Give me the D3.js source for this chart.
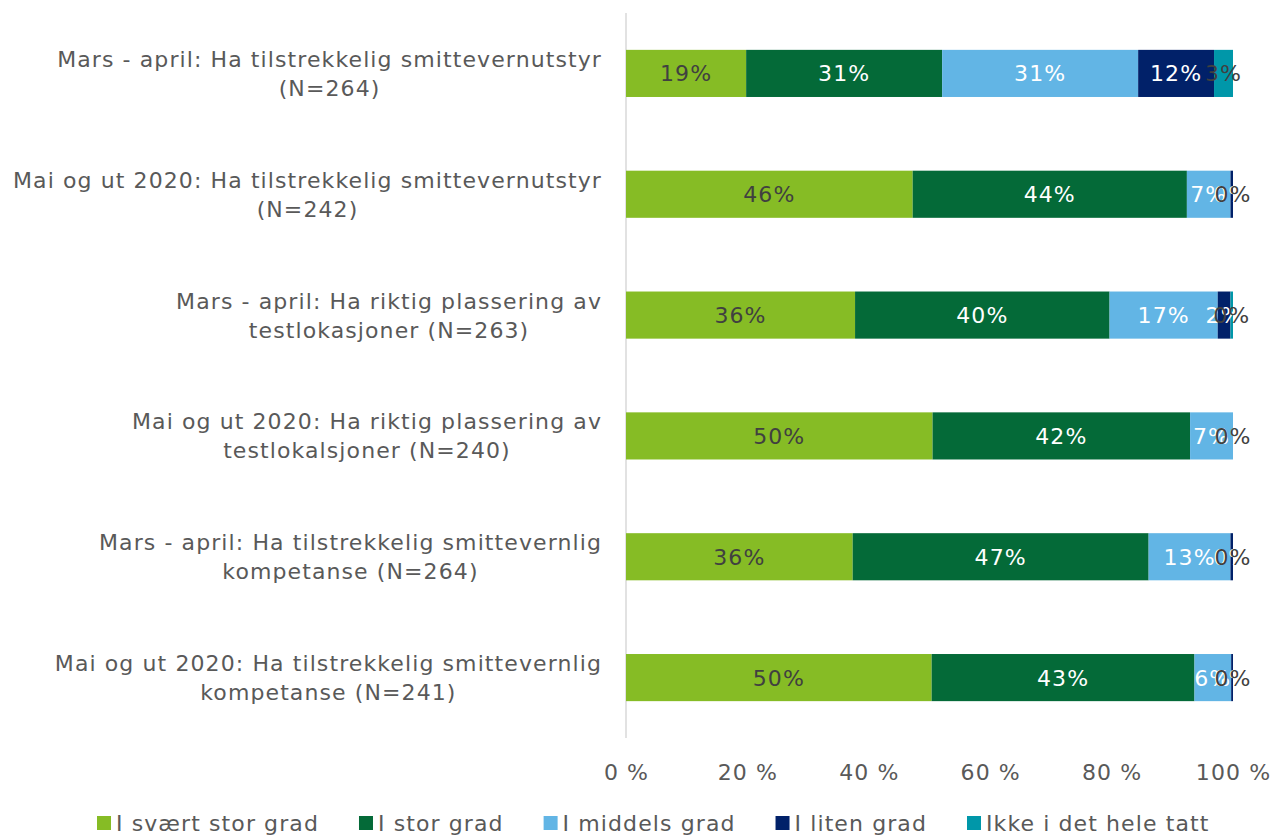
<!DOCTYPE html>
<html>
<head>
<meta charset="utf-8">
<script src="https://cdn.jsdelivr.net/npm/d3@7"></script>
<style>
  html, body { margin: 0; padding: 0; background: #ffffff; }
  svg { display: block; }
  text { font-family: "DejaVu Sans", Verdana, sans-serif; letter-spacing: 1.1px; }
</style>
</head>
<body>
<svg id="chart" width="1276" height="835"></svg>
<script>
// Question rows (two-line labels), top to bottom
const categories = [
  ["Mars - april: Ha tilstrekkelig smittevernutstyr", "(N=264)"],
  ["Mai og ut 2020: Ha tilstrekkelig smittevernutstyr", "(N=242)"],
  ["Mars - april: Ha riktig plassering av", "testlokasjoner (N=263)"],
  ["Mai og ut 2020: Ha riktig plassering av", "testlokalsjoner (N=240)"],
  ["Mars - april: Ha tilstrekkelig smittevernlig", "kompetanse (N=264)"],
  ["Mai og ut 2020: Ha tilstrekkelig smittevernlig", "kompetanse (N=241)"]
];

// Answer categories and their colours
const seriesNames = ["I svært stor grad", "I stor grad", "I middels grad", "I liten grad", "Ikke i det hele tatt"];
const seriesColors = ["#86bc25", "#046a38", "#62b5e5", "#012169", "#0097a9"];
const labelColors  = ["#404040", "#ffffff", "#ffffff", "#ffffff", "#404040"];

// Shares in percent per answer category (one value per row)
const sværtStor = [19, 46, 36, 50, 36, 50];
const stor      = [31, 44, 40, 42, 47, 43];
const middels   = [31, 7, 17, 7, 13, 6];
const liten     = [12, 0.4, 2, 0, 0.4, 0.3];
const ikke      = [3, 0, 0.4, 0, 0, 0];

// Axis ticks
const tickValues = [0, 20, 40, 60, 80, 100];

const series = [sværtStor, stor, middels, liten, ikke];

const svg = d3.select("#chart");

const x = d3.scaleLinear().domain([0, 100]).range([626, 1233]);
const y = d3.scaleBand()
  .domain(d3.range(categories.length))
  .range([13, 738])
  .paddingInner(0.61)
  .paddingOuter(0.305);

// Rows as records, normalised to 100 % like a 100 % stacked bar
const rows = categories.map((c, i) => {
  const r = { idx: i };
  series.forEach((s, k) => { r["s" + k] = s[i]; });
  return r;
});
const keys = series.map((s, k) => "s" + k);
const stack = d3.stack().keys(keys).offset(d3.stackOffsetExpand);
const stacked = stack(rows);

// Vertical category axis line
svg.append("line")
  .attr("x1", x(0)).attr("x2", x(0))
  .attr("y1", 13).attr("y2", 738)
  .attr("stroke", "#d9d9d9").attr("stroke-width", 1.5);

// Bars
const layers = svg.append("g").selectAll("g")
  .data(stacked).join("g")
  .attr("fill", (d, k) => seriesColors[k]);

layers.selectAll("rect")
  .data(d => d)
  .join("rect")
  .attr("x", d => x(d[0] * 100))
  .attr("width", d => Math.max(0, x(d[1] * 100) - x(d[0] * 100)))
  .attr("y", d => y(d.data.idx))
  .attr("height", y.bandwidth());

// Value labels in each segment
const labelG = svg.append("g");
stacked.forEach((layer, k) => {
  labelG.append("g").selectAll("text")
    .data(layer).join("text")
    .attr("x", d => x((d[0] + d[1]) / 2 * 100))
    .attr("y", d => y(d.data.idx) + y.bandwidth() / 2)
    .attr("dy", "0.36em")
    .attr("text-anchor", "middle")
    .attr("font-size", 22)
    .attr("fill", labelColors[k])
    .text(d => Math.round(d.data["s" + k]) + "%");
});

// Category labels: block right-aligned, lines centred in the block
const catG = svg.append("g");
categories.forEach((lines, i) => {
  const cy = y(i) + y.bandwidth() / 2;
  const g = catG.append("g");
  const texts = lines.map((t, j) => g.append("text")
    .attr("font-size", 22)
    .attr("fill", "#595959")
    .attr("text-anchor", "middle")
    .attr("y", cy + (j - (lines.length - 1) / 2) * 29)
    .attr("dy", "0.36em")
    .text(t));
  const w = d3.max(texts, t => t.node().getComputedTextLength());
  texts.forEach(t => t.attr("x", 602 - w / 2));
});

// Horizontal value axis (labels only)
const xAxis = d3.axisBottom(x)
  .tickValues(tickValues)
  .tickFormat(d => d + " %")
  .tickSize(0)
  .tickPadding(0);
const axG = svg.append("g").attr("transform", "translate(0,772)").call(xAxis);
axG.select(".domain").remove();
axG.selectAll("text")
  .attr("font-size", 22)
  .attr("fill", "#595959")
  .attr("dy", "0.36em")
  .attr("y", 0)
  .style("font-family", "'DejaVu Sans', Verdana, sans-serif");

// Legend
const legend = svg.append("g");
let lx = 97;
seriesNames.forEach((name, k) => {
  legend.append("rect")
    .attr("x", lx).attr("y", 816)
    .attr("width", 14).attr("height", 14)
    .attr("fill", seriesColors[k]);
  const t = legend.append("text")
    .attr("x", lx + 19).attr("y", 823)
    .attr("dy", "0.36em")
    .attr("font-size", 22)
    .attr("fill", "#595959")
    .text(name);
  lx += 19 + t.node().getComputedTextLength() + 40;
});
</script>
</body>
</html>
